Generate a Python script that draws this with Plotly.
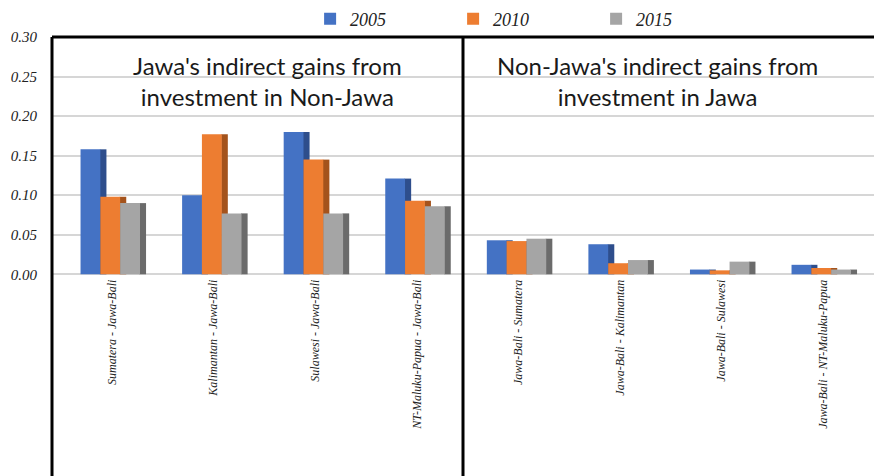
import plotly.graph_objects as go

# Region pairs (origin - destination of investment)
categories = [
    "Sumatera - Jawa-Bali",
    "Kalimantan - Jawa-Bali",
    "Sulawesi - Jawa-Bali",
    "NT-Maluku-Papua - Jawa-Bali",
    "Jawa-Bali - Sumatera",
    "Jawa-Bali - Kalimantan",
    "Jawa-Bali - Sulawesi",
    "Jawa-Bali - NT-Maluku-Papua",
]
years = ["2005", "2010", "2015"]
v2005 = [0.158, 0.100, 0.180, 0.121, 0.043, 0.038, 0.006, 0.012]
v2010 = [0.098, 0.177, 0.145, 0.093, 0.042, 0.014, 0.005, 0.008]
v2015 = [0.090, 0.077, 0.077, 0.086, 0.045, 0.018, 0.016, 0.006]
y_ticks = [0.00, 0.05, 0.10, 0.15, 0.20, 0.25, 0.30]

series = [v2005, v2010, v2015]
face_colors = ["#4472C4", "#ED7D31", "#A5A5A5"]
side_colors = ["#2E4E8C", "#A4531C", "#6B6B6B"]

bar_w = 0.195
side_w = 0.065
offsets = [-0.31, -0.115, 0.08]

serif = "Times New Roman"
sans = "Lato"

fig = go.Figure()

# shaded side faces, drawn first so the next bar covers them
for vals, off, col in zip(series, offsets, side_colors):
    fig.add_trace(go.Bar(
        x=categories, y=vals, offset=off + bar_w - 0.005, width=side_w,
        marker=dict(color=col, line=dict(width=0)),
        showlegend=False, hoverinfo="skip",
    ))

# front faces
for name, vals, off, col in zip(years, series, offsets, face_colors):
    fig.add_trace(go.Bar(
        x=categories, y=vals, name=name, offset=off, width=bar_w,
        marker=dict(color=col, line=dict(width=0)),
    ))

# panel frame: outer box and divider between the two groups
frame = dict(color="black", width=3)
fig.add_shape(type="line", xref="paper", yref="paper", x0=0, x1=0, y0=-0.05, y1=1, line=frame)
fig.add_shape(type="line", xref="paper", yref="paper", x0=0, x1=1.01, y0=1, y1=1, line=frame)
fig.add_shape(type="line", xref="paper", yref="paper", x0=0.5, x1=0.5, y0=-0.05, y1=1, line=frame)

title_font = dict(family=sans, size=24, color="#1a1a1a", style="normal")
fig.add_annotation(
    xref="paper", yref="paper", x=0.262, y=0.972, xanchor="center", yanchor="top",
    showarrow=False, align="center",
    text="Jawa's indirect gains from<br>investment in Non-Jawa", font=title_font,
)
fig.add_annotation(
    xref="paper", yref="paper", x=0.737, y=0.972, xanchor="center", yanchor="top",
    showarrow=False, align="center",
    text="Non-Jawa's indirect gains from<br>investment in Jawa", font=title_font,
)

y_lo, y_hi = -0.255, 0.30
zero_pos = (0 - y_lo) / (y_hi - y_lo)

fig.update_layout(
    width=874, height=476,
    margin=dict(l=52, r=0, t=37, b=0),
    paper_bgcolor="white", plot_bgcolor="white",
    barmode="overlay",
    font=dict(family=serif, size=14, color="#222"),
    legend=dict(
        orientation="h", x=0.314, y=1.083, xanchor="left", yanchor="top",
        bgcolor="rgba(0,0,0,0)",
        font=dict(family=serif, size=18, color="#222", style="italic"),
        entrywidth=98, entrywidthmode="pixels", itemwidth=30,
        traceorder="normal",
    ),
    xaxis=dict(
        range=[-0.591, 7.502], anchor="free", position=zero_pos,
        showgrid=False, showline=False, zeroline=False,
        tickangle=-90, ticks="", ticklabelstandoff=2,
        tickfont=dict(family=serif, size=12, color="#222", style="italic"),
    ),
    yaxis=dict(
        range=[y_lo, y_hi], tickvals=y_ticks,
        ticktext=[f"{t:.2f}" for t in y_ticks],
        showgrid=True, gridcolor="#d6d6d6", gridwidth=1.5,
        zeroline=False, showline=False, ticks="",
        ticklabelstandoff=14,
        tickfont=dict(family=serif, size=15, color="#222", style="italic"),
    ),
)

fig.write_html("out.html")
